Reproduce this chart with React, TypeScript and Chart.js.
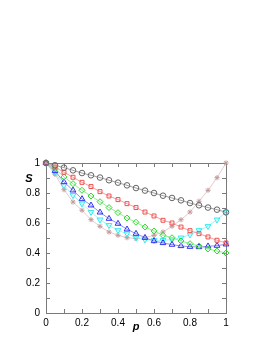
import React, { useEffect, useRef } from "react";
import { Chart, registerables } from "chart.js";

Chart.register(...registerables);

const P = [0, 0.05, 0.1, 0.15, 0.2, 0.25, 0.3, 0.35, 0.4, 0.45, 0.5, 0.55, 0.6, 0.65, 0.7, 0.75, 0.8, 0.85, 0.9, 0.95, 1.0];

const circles = [1, 0.985, 0.969, 0.951, 0.933, 0.918, 0.903, 0.885, 0.869, 0.851, 0.833, 0.816, 0.8, 0.782, 0.767, 0.751, 0.733, 0.718, 0.703, 0.689, 0.671];
const squares = [1, 0.973, 0.938, 0.905, 0.871, 0.843, 0.809, 0.78, 0.756, 0.729, 0.703, 0.673, 0.647, 0.618, 0.6, 0.573, 0.549, 0.529, 0.507, 0.485, 0.467];
const diamonds = [1, 0.962, 0.907, 0.862, 0.818, 0.78, 0.742, 0.703, 0.669, 0.633, 0.605, 0.573, 0.547, 0.518, 0.502, 0.48, 0.462, 0.447, 0.427, 0.413, 0.4];
const upTriangles = [1, 0.947, 0.873, 0.818, 0.76, 0.718, 0.671, 0.629, 0.596, 0.558, 0.529, 0.502, 0.48, 0.467, 0.456, 0.447, 0.442, 0.44, 0.445, 0.449, 0.458];
const downTriangles = [1, 0.936, 0.851, 0.785, 0.729, 0.673, 0.622, 0.585, 0.551, 0.529, 0.502, 0.489, 0.485, 0.485, 0.489, 0.502, 0.522, 0.551, 0.578, 0.622, 0.671];
const stars = [1, 0.925, 0.822, 0.74, 0.685, 0.622, 0.578, 0.54, 0.518, 0.502, 0.496, 0.502, 0.518, 0.54, 0.578, 0.622, 0.673, 0.745, 0.818, 0.902, 1.0];

const TICK_VALUES = [0, 0.1, 0.2, 0.3, 0.4, 0.5, 0.6, 0.7, 0.8, 0.9, 1];
const X_TITLE = "p";
const Y_TITLE = "S";

const FONT = "'Liberation Sans', Arial, sans-serif";

function fmt(v: number): string {
  const k = Math.round(v * 10);
  if (k % 2 !== 0) return "";
  return String(Math.round(v * 10) / 10);
}

const framePlugin = {
  id: "frame",
  beforeDatasetsDraw(chart: any) {
    const { ctx, chartArea: a, scales } = chart;
    ctx.save();
    ctx.strokeStyle = "#7a7a7a";
    ctx.lineWidth = 1;
    ctx.strokeRect(Math.round(a.left) + 0.5, Math.round(a.top) + 0.5, Math.round(a.right - a.left), Math.round(a.bottom - a.top));
    const L = 4;
    ctx.beginPath();
    TICK_VALUES.forEach((v) => {
      const x = Math.round(scales.x.getPixelForValue(v)) + 0.5;
      ctx.moveTo(x, a.bottom);
      ctx.lineTo(x, a.bottom - L);
      ctx.moveTo(x, a.top);
      ctx.lineTo(x, a.top + L);
      const y = Math.round(scales.y.getPixelForValue(v)) + 0.5;
      ctx.moveTo(a.left, y);
      ctx.lineTo(a.left + L, y);
      ctx.moveTo(a.right, y);
      ctx.lineTo(a.right - L, y);
    });
    ctx.stroke();
    ctx.restore();
  },
  afterDraw(chart: any) {
    const { ctx, chartArea: a } = chart;
    ctx.save();
    ctx.fillStyle = "#000";
    ctx.font = `italic bold 11px ${FONT}`;
    ctx.textAlign = "center";
    ctx.textBaseline = "middle";
    ctx.fillText(Y_TITLE, 29, a.top + 16);
    ctx.fillText(X_TITLE, (a.left + a.right) / 2, 327);
    ctx.restore();
  },
};

function ds(label: string, values: number[], color: string, line: string, style: string, rot = 0, radius = 3, bw = 1) {
  return {
    label,
    data: P.map((x, i) => ({ x, y: values[i] })),
    borderColor: line,
    pointBorderColor: color,
    backgroundColor: "transparent",
    pointBackgroundColor: "transparent",
    pointStyle: style,
    pointRotation: rot,
    pointRadius: radius,
    pointBorderWidth: bw,
    borderWidth: 1,
    clip: false as any,
  };
}

export default function App() {
  const ref = useRef<HTMLCanvasElement>(null);
  useEffect(() => {
    document.body.style.margin = "0";
    const chart = new Chart(ref.current!, {
      type: "line",
      data: {
        datasets: [
          ds("a", circles, "#666666", "#a0a0a0", "circle", 0, 2.8),
          ds("b", squares, "#f05050", "#f8a0a0", "rect", 0, 2.8),
          ds("c", diamonds, "#30d830", "#90ee90", "rectRot", 0, 3),
          ds("d", upTriangles, "#3030f0", "#9090f8", "triangle", 0, 3.3),
          ds("e", downTriangles, "#30e8f0", "#a0f4f8", "triangle", 180, 3.3),
          ds("f", stars, "#c49a9a", "#e4cccc", "star", 0, 2.6, 1),
        ] as any,
      },
      options: {
        animation: false,
        responsive: false,
        layout: { padding: { left: 0, right: 47, top: 163, bottom: 0 } },
        plugins: { legend: { display: false }, tooltip: { enabled: false } },
        scales: {
          x: {
            type: "linear",
            min: 0,
            max: 1,
            afterFit: (s: any) => { s.height = 40; },
            grid: { display: false, drawTicks: false },
            border: { display: false },
            ticks: {
              stepSize: 0.1,
              autoSkip: false,
              maxRotation: 0,
              padding: 4,
              color: "#000",
              font: { family: FONT, size: 10 },
              callback: (v: any) => fmt(Number(v)),
            },
          },
          y: {
            type: "linear",
            min: 0,
            max: 1,
            afterFit: (s: any) => { s.width = 46; },
            grid: { display: false, drawTicks: false },
            border: { display: false },
            ticks: {
              stepSize: 0.1,
              autoSkip: false,
              padding: 6,
              color: "#000",
              font: { family: FONT, size: 10 },
              callback: (v: any) => fmt(Number(v)),
            },
          },
        },
      },
      plugins: [framePlugin],
    });
    return () => chart.destroy();
  }, []);
  return <canvas ref={ref} width={273} height={353} style={{ display: "block" }} />;
}
